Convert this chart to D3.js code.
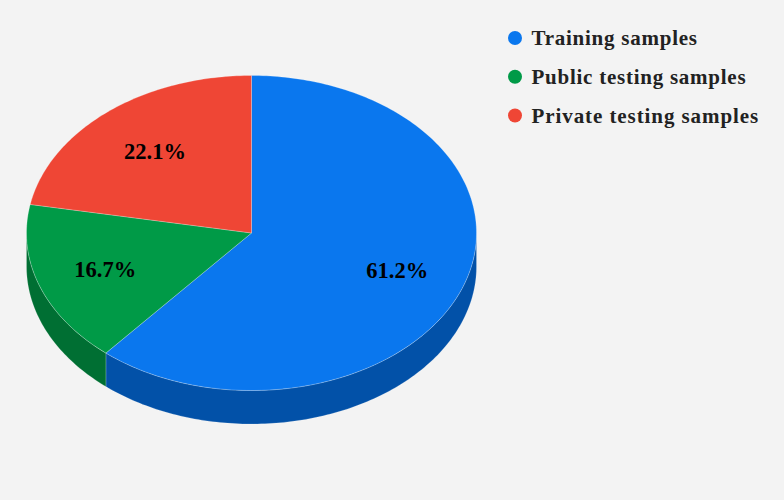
<!DOCTYPE html>
<html><head><meta charset="utf-8">
<script src="https://cdn.jsdelivr.net/npm/d3@7"></script>
<style>html,body{margin:0;padding:0;background:#f3f3f3}svg{display:block}</style>
</head><body><svg id="c" width="784" height="500"></svg>
<script>
const categories=["Training samples","Public testing samples","Private testing samples"];
const values=[61.2,16.7,22.1];
const topColors=["#0a77ee","#009a47","#ef4635"];
const sideColors=["#0251a8","#006f33","#a83125"];
const svg=d3.select("#c");
const cx=251.5,cy=233,rx=225,ry=157.5,depth=33.5;
const font="'Liberation Serif',serif";
svg.append("rect").attr("width",784).attr("height",500).attr("fill","#f3f3f3");
const pie=d3.pie().sort(null).value(d=>d)(values);
const pt=(a,k=1,dy=0)=>[cx+rx*k*Math.sin(a),cy-ry*k*Math.cos(a)+dy];
const line=d3.line();
function arcPts(a0,a1,dy){const n=Math.max(2,Math.ceil((a1-a0)*60));return d3.range(n+1).map(i=>pt(a0+(a1-a0)*i/n,1,dy));}
pie.forEach((s,i)=>{
  const a0=Math.max(s.startAngle,Math.PI/2),a1=Math.min(s.endAngle,3*Math.PI/2);
  if(a1<=a0)return;
  const top=arcPts(a0,a1,0),bot=arcPts(a0,a1,depth).reverse();
  svg.append("path").attr("d",line(top.concat(bot))+"Z").attr("fill",sideColors[i])
    .attr("stroke","#fff").attr("stroke-opacity",0.22).attr("stroke-width",0.8);
});
pie.forEach((s,i)=>{
  svg.append("path").attr("d",line([[cx,cy]].concat(arcPts(s.startAngle,s.endAngle,0)))+"Z").attr("fill",topColors[i])
    .attr("stroke","#fff").attr("stroke-opacity",0.3).attr("stroke-width",0.8);
});
const labelK=[0.69,0.69,0.67];
pie.forEach((s,i)=>{
  const p=pt((s.startAngle+s.endAngle)/2,labelK[i]);
  svg.append("text").attr("x",p[0]).attr("y",p[1]).attr("text-anchor","middle").attr("dominant-baseline","central")
    .attr("font-family",font).attr("font-weight","bold").attr("font-size",22.5).attr("fill","#000").text(values[i].toFixed(1)+"%");
});
const ly=d3.scalePoint().domain(categories).range([38,115.5]);
const spacing=[0.75,0.75,0.92];
categories.forEach((c,i)=>{
  svg.append("circle").attr("cx",515).attr("cy",ly(c)).attr("r",7).attr("fill",topColors[i]);
  svg.append("text").attr("x",531.5).attr("y",ly(c)).attr("dominant-baseline","central")
    .attr("font-family",font).attr("font-weight","bold").attr("font-size",21).attr("letter-spacing",spacing[i]).attr("fill","#222").text(c);
});
</script></body></html>
